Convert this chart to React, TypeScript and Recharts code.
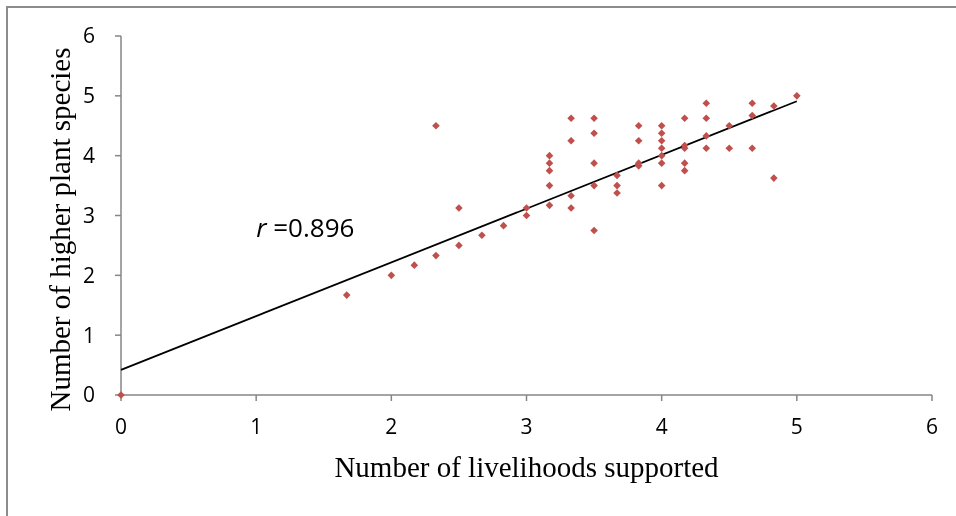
import React from "react";
import {
  ScatterChart,
  Scatter,
  XAxis,
  YAxis,
  ReferenceDot,
  Label,
} from "recharts";

// livelihoods supported vs higher plant species, one entry per site
const livelihoods = [
  0, 1.67, 2, 2.17, 2.33, 2.33, 2.5, 2.5, 2.67, 2.83, 3, 3,
  3.17, 3.17, 3.17, 3.17, 3.17,
  3.33, 3.33, 3.33, 3.33,
  3.5, 3.5, 3.5, 3.5, 3.5,
  3.67, 3.67, 3.67,
  3.83, 3.83, 3.83, 3.83,
  4, 4, 4, 4, 4, 4, 4,
  4.17, 4.17, 4.17, 4.17, 4.17,
  4.33, 4.33, 4.33, 4.33,
  4.5, 4.5,
  4.67, 4.67, 4.67,
  4.83, 4.83,
  5,
];
const plantSpecies = [
  0, 1.67, 2, 2.17, 2.33, 4.5, 2.5, 3.125, 2.67, 2.83, 3, 3.125,
  3.17, 3.5, 3.75, 3.875, 4,
  3.125, 3.33, 4.25, 4.625,
  2.75, 3.5, 3.875, 4.375, 4.625,
  3.375, 3.5, 3.67,
  3.83, 3.875, 4.25, 4.5,
  3.5, 3.875, 4, 4.125, 4.25, 4.375, 4.5,
  3.75, 3.875, 4.125, 4.17, 4.625,
  4.125, 4.33, 4.625, 4.875,
  4.125, 4.5,
  4.125, 4.67, 4.875,
  3.625, 4.83,
  5,
];

const trendX = [0, 5];
const trendY = [0.42, 4.91];

const xTicks = [0, 1, 2, 3, 4, 5, 6];
const yTicks = [0, 1, 2, 3, 4, 5, 6];

const rValue = "0.896";
const rPos = { x: 1.0, y: 2.64 };

const points = livelihoods.map((x, i) => ({ x, y: plantSpecies[i] }));
const trend = trendX.map((x, i) => ({ x, y: trendY[i] }));

const MARKER = "#C0504D";
const AXIS = "#868686";
const TICK_FONT = "'Open Sans', sans-serif";
const TITLE_FONT = "'Liberation Serif', 'Times New Roman', serif";

const Diamond = (props: any) => {
  const { cx, cy } = props;
  const h = 3.8;
  return (
    <path
      d={`M${cx},${cy - h}L${cx + h},${cy}L${cx},${cy + h}L${cx - h},${cy}Z`}
      fill={MARKER}
    />
  );
};

const NoShape = () => <g />;

const RLabel = (props: any) => {
  const { cx, cy } = props;
  return (
    <text x={cx} y={cy} fontFamily={TICK_FONT} fontSize={26} fill="#000">
      <tspan fontStyle="italic">r</tspan>
      <tspan> =</tspan>
      <tspan>{rValue}</tspan>
    </text>
  );
};

export default function App() {
  return (
    <div style={{ position: "relative", width: 940, height: 500 }}>
      <div
        style={{
          position: "fixed",
          left: 6,
          top: 6,
          width: 980,
          height: 540,
          borderLeft: "2px solid #8c8c8c",
          borderTop: "2px solid #8c8c8c",
          pointerEvents: "none",
        }}
      />
      <ScatterChart
        width={940}
        height={500}
        margin={{ top: 28, right: 16, left: 0, bottom: 23 }}
      >
        <XAxis
          type="number"
          dataKey="x"
          domain={[0, 6]}
          ticks={xTicks}
          interval={0}
          height={90}
          axisLine={{ stroke: AXIS, strokeWidth: 1.5 }}
          tickLine={{ stroke: AXIS, strokeWidth: 1.5 }}
          tickSize={6}
          tickMargin={18}
          tick={{ fill: "#000", fontSize: 21, fontFamily: TICK_FONT }}
        >
          <Label
            content={(p: any) => {
              const vb = p.viewBox;
              return (
                <text
                  x={vb.x + vb.width / 2}
                  y={vb.y + 82}
                  textAnchor="middle"
                  fontFamily={TITLE_FONT}
                  fontSize={29}
                  fill="#000"
                >
                  Number of livelihoods supported
                </text>
              );
            }}
          />
        </XAxis>
        <YAxis
          type="number"
          dataKey="y"
          domain={[0, 6]}
          ticks={yTicks}
          interval={0}
          width={113}
          axisLine={{ stroke: AXIS, strokeWidth: 1.5 }}
          tickLine={{ stroke: AXIS, strokeWidth: 1.5 }}
          tickSize={6}
          tickMargin={20}
          tick={{ fill: "#000", fontSize: 21, fontFamily: TICK_FONT }}
        >
          <Label
            content={(p: any) => {
              const vb = p.viewBox;
              const cx = 62;
              const cy = vb.y + vb.height / 2 + 14;
              return (
                <text
                  x={cx}
                  y={cy}
                  transform={`rotate(-90, ${cx}, ${cy})`}
                  textAnchor="middle"
                  fontFamily={TITLE_FONT}
                  fontSize={29}
                  fill="#000"
                >
                  Number of higher plant species
                </text>
              );
            }}
          />
        </YAxis>
        <Scatter
          data={trend}
          line={{ stroke: "#000", strokeWidth: 1.8 }}
          shape={NoShape}
          isAnimationActive={false}
        />
        <Scatter
          data={points}
          shape={Diamond}
          isAnimationActive={false}
        />
        <ReferenceDot
          x={rPos.x}
          y={rPos.y}
          r={0}
          shape={RLabel}
        />
      </ScatterChart>
    </div>
  );
}
